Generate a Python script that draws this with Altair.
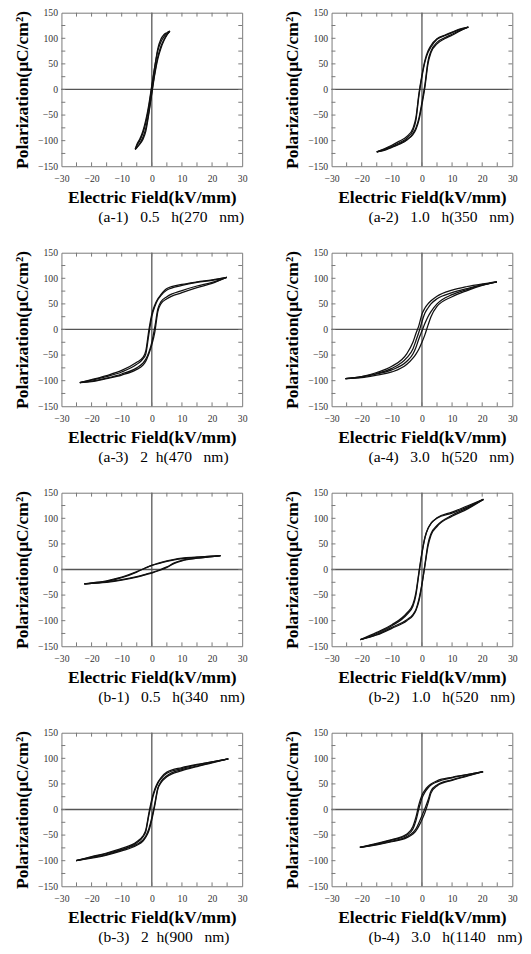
import altair as alt
import pandas as pd

# ---------------- data ----------------
S3 = "\u00a0\u00a0\u00a0"
S2 = "\u00a0\u00a0"
CAPTIONS = [
    "(a-1)" + S3 + "0.5" + S3 + "h(270" + S3 + "nm)",
    "(a-2)" + S3 + "1.0" + S3 + "h(350" + S3 + "nm)",
    "(a-3)" + S3 + "2" + S2 + "h(470" + S3 + "nm)",
    "(a-4)" + S3 + "3.0" + S3 + "h(520" + S3 + "nm)",
    "(b-1)" + S3 + "0.5" + S3 + "h(340" + S3 + "nm)",
    "(b-2)" + S3 + "1.0" + S3 + "h(520" + S3 + "nm)",
    "(b-3)" + S3 + "2" + S2 + "h(900" + S3 + "nm)",
    "(b-4)" + S3 + "3.0" + S3 + "h(1140" + S3 + "nm)",
]

X_LABELS = [-30, -20, -10, 0, 10, 20, 30]
Y_LABELS = [-150, -100, -50, 0, 50, 100, 150]
X_TICKS = [-25, -20, -15, -10, -5, 0, 5, 10, 15, 20, 25]
Y_TICKS = [-125, -100, -75, -50, -25, 0, 25, 50, 75, 100, 125]

# (a-1)
A1_E = [-5.5, -5, -4, -3, -2, -1, 0, 1, 2, 3, 4, 5, 6]
A1_UP = [-117, -110, -100, -86, -65, -35, 5, 45, 80, 98, 107, 111, 114]
A1_DN = [-117, -113, -107, -98, -82, -48, -8, 30, 60, 80, 95, 106, 114]
A1_UP2 = [-117, -108, -97, -82, -60, -30, 8, 45, 76, 93, 103, 109, 114]
A1_DN2 = [-117, -114, -106, -94, -76, -44, -5, 33, 64, 84, 97, 107, 114]

# (a-2)
A2_E = [-15, -12.5, -10, -7.5, -5, -3, -2, -1, 0, 1, 2, 3, 5, 7.5, 10, 12.5, 15.4]
A2_UP = [-122, -117, -111, -104, -95, -80, -60, -12, 25, 54, 72, 83, 98, 105, 111, 117, 122]
A2_DN = [-122, -119, -113, -107, -99, -86, -75, -56, -25, 10, 55, 75, 92, 101, 108, 115, 122]
A2_UP2 = [-122, -116, -109, -101, -92, -76, -55, -8, 28, 57, 75, 86, 99, 106, 112, 118, 122]
A2_DN2 = [-122, -118, -112, -106, -98, -88, -78, -60, -30, 5, 50, 72, 89, 99, 106, 114, 122]

# (a-3)
A3_E = [-23.9, -20, -15, -10, -5, -3, -2, -1, 0, 1, 2, 3, 5, 10, 15, 20, 24.9]
A3_UP = [-104, -98, -90, -80, -64, -55, -42, -2, 30, 48, 60, 68, 80, 88, 93, 97, 102]
A3_DN = [-104, -102, -96, -89, -78, -70, -62, -48, -30, -5, 35, 50, 60, 72, 82, 90, 102]
A3_UP2 = [-104, -99, -92, -83, -68, -58, -48, -10, 25, 45, 58, 66, 77, 86, 92, 96, 102]
A3_DN2 = [-104, -101, -95, -87, -75, -66, -58, -45, -25, 5, 40, 54, 64, 76, 85, 92, 102]

# (a-4)
A4_E = [-25.4, -20, -15, -10, -5, -3, -2, -1, 0, 1, 2, 3, 5, 10, 15, 20, 24.9]
A4_UP = [-96, -92, -84, -72, -47, -25, -8, 8, 30, 42, 50, 56, 65, 77, 84, 89, 93]
A4_DN = [-96, -94, -89, -83, -68, -56, -48, -38, -25, -10, 8, 25, 45, 64, 76, 86, 93]
A4_UP2 = [-96, -92, -86, -76, -55, -38, -22, -5, 15, 32, 42, 50, 60, 72, 80, 87, 93]
A4_DN2 = [-96, -93, -87, -79, -62, -48, -35, -18, -3, 12, 25, 35, 50, 68, 78, 87, 93]

# (b-1)
B1_E = [-22.4, -20, -15, -10, -5, -2.5, 0, 2.5, 5, 7.5, 10, 15, 20, 22.8]
B1_UP = [-28, -27, -23, -16, -5, 2, 8, 12, 16, 19, 21, 24, 26, 27]
B1_DN = [-28, -27, -25, -21, -15, -11, -7, -2, 4, 12, 17, 22, 25, 27]
B1_UP2 = [-28, -26, -22, -15, -4, 2, 8, 13, 17, 20, 22, 24, 26, 27]
B1_DN2 = [-28, -27, -24, -20, -14, -10, -6, -1, 5, 13, 18, 22, 25, 27]

# (b-2)
B2_E = [-20.4, -15, -10, -5, -3, -2, -1, 0, 1, 2, 3, 5, 10, 15, 20.4]
B2_UP = [-137, -125, -110, -88, -72, -50, -8, 31, 62, 80, 90, 101, 112, 124, 137]
B2_DN = [-137, -128, -115, -100, -90, -80, -62, -30, 10, 50, 70, 86, 106, 120, 137]
B2_UP2 = [-137, -123, -108, -85, -68, -45, -5, 33, 63, 80, 90, 100, 110, 122, 137]
B2_DN2 = [-137, -127, -113, -98, -88, -78, -58, -28, 8, 45, 67, 84, 104, 118, 137]

# (b-3)
B3_E = [-25.1, -20, -15, -10, -5, -3, -2, -1, 0, 1, 2, 3, 5, 10, 15, 20, 25.4]
B3_UP = [-100, -92, -85, -76, -63, -52, -40, -8, 20, 40, 53, 62, 73, 82, 88, 93, 99]
B3_DN = [-100, -95, -89, -81, -70, -62, -54, -42, -20, 8, 40, 52, 64, 76, 84, 91, 99]
B3_UP2 = [-100, -93, -86, -78, -65, -54, -43, -12, 16, 37, 51, 60, 71, 80, 87, 93, 99]
B3_DN2 = [-100, -94, -88, -79, -68, -60, -52, -38, -16, 12, 42, 54, 66, 78, 85, 92, 99]

# (b-4)
B4_E = [-20.6, -15, -10, -5, -3, -2, -1, 0, 1, 2, 3, 5, 10, 15, 20.3]
B4_UP = [-74, -66, -59, -48, -33, -15, 10, 28, 38, 45, 50, 56, 63, 68, 74]
B4_DN = [-74, -69, -63, -55, -48, -42, -32, -20, -6, 12, 32, 46, 57, 65, 74]
B4_UP2 = [-74, -67, -60, -50, -38, -22, 2, 22, 34, 42, 48, 54, 62, 68, 74]
B4_DN2 = [-74, -68, -62, -53, -45, -38, -26, -12, 2, 18, 36, 48, 58, 66, 74]

PANELS = [
    (A1_E, [A1_UP, A1_DN, A1_UP2, A1_DN2]),
    (A2_E, [A2_UP, A2_DN, A2_UP2, A2_DN2]),
    (A3_E, [A3_UP, A3_DN, A3_UP2, A3_DN2]),
    (A4_E, [A4_UP, A4_DN, A4_UP2, A4_DN2]),
    (B1_E, [B1_UP, B1_DN, B1_UP2, B1_DN2]),
    (B2_E, [B2_UP, B2_DN, B2_UP2, B2_DN2]),
    (B3_E, [B3_UP, B3_DN, B3_UP2, B3_DN2]),
    (B4_E, [B4_UP, B4_DN, B4_UP2, B4_DN2]),
]

# ---------------- styling ----------------
W, H = 186, 158
SERIF = "Liberation Serif"
FRAME = "#777777"
TL = 4  # tick length

xscale = alt.Scale(domain=[-30, 30], nice=False, zero=False)
yscale = alt.Scale(domain=[-150, 150], nice=False, zero=False)

xaxis = alt.Axis(
    values=X_LABELS, title="Electric Field(kV/mm)", ticks=False, tickSize=0,
    domain=False, grid=False, labelFont=SERIF, labelFontSize=10,
    labelColor="#333333", labelPadding=8, labelFlush=False, labelOverlap=False,
    titleFont=SERIF, titleFontSize=18, titleFontWeight="bold", titleColor="#000000",
    titlePadding=5,
)
yaxis = alt.Axis(
    values=Y_LABELS, title="Polarization(\u03bcC/cm\u00b2)", ticks=False, tickSize=0,
    domain=False, grid=False, labelFont=SERIF, labelFontSize=10,
    labelColor="#333333", labelPadding=4, labelFlush=False, labelOverlap=False,
    titleFont=SERIF, titleFontSize=18, titleFontWeight="bold", titleColor="#000000",
    titlePadding=6,
)


def xenc():
    return alt.X("E:Q", scale=xscale, axis=xaxis)


def yenc():
    return alt.Y("P:Q", scale=yscale, axis=yaxis)


xt = pd.DataFrame({"E": X_TICKS})
yt = pd.DataFrame({"P": Y_TICKS})
zx = pd.DataFrame({"E": [0]})
zy = pd.DataFrame({"P": [0]})


def panel(i):
    E, branches = PANELS[i]
    rows = []
    for b, P in enumerate(branches):
        for e, p in zip(E, P):
            rows.append({"E": e, "P": p, "s": b})
    df = pd.DataFrame(rows)

    loops = alt.Chart(df).mark_line(
        color="#111111", strokeWidth=1.3, interpolate="monotone"
    ).encode(x=xenc(), y=yenc(), detail="s:N")

    ztx = alt.Chart(zx).mark_rule(color="#555555", strokeWidth=1.3).encode(x=xenc())
    zty = alt.Chart(zy).mark_rule(color="#555555", strokeWidth=1.3).encode(y=yenc())

    top = alt.Chart(xt).mark_rule(color=FRAME).encode(
        x=xenc(), y=alt.value(0), y2=alt.value(TL))
    bot = alt.Chart(xt).mark_rule(color=FRAME).encode(
        x=xenc(), y=alt.value(H), y2=alt.value(H - TL))
    lef = alt.Chart(yt).mark_rule(color=FRAME).encode(
        y=yenc(), x=alt.value(0), x2=alt.value(TL))
    rig = alt.Chart(yt).mark_rule(color=FRAME).encode(
        y=yenc(), x=alt.value(W), x2=alt.value(W - TL))

    return alt.layer(ztx, zty, top, bot, lef, rig, loops).properties(
        width=W, height=H,
        title=alt.TitleParams(
            CAPTIONS[i], orient="bottom", anchor="start", frame="group",
            dx=38, offset=3, font=SERIF, fontSize=16, fontWeight="normal",
            color="#000000",
        ),
    )


rows_ = [alt.hconcat(panel(2 * r), panel(2 * r + 1), spacing=36) for r in range(4)]
chart = alt.vconcat(*rows_, spacing=22).properties(
    padding={"left": 5, "top": -15, "right": 0, "bottom": 0}
).configure_view(stroke=FRAME, strokeWidth=1)

chart.save("out.html", embed_options={"renderer": "svg", "actions": False})
